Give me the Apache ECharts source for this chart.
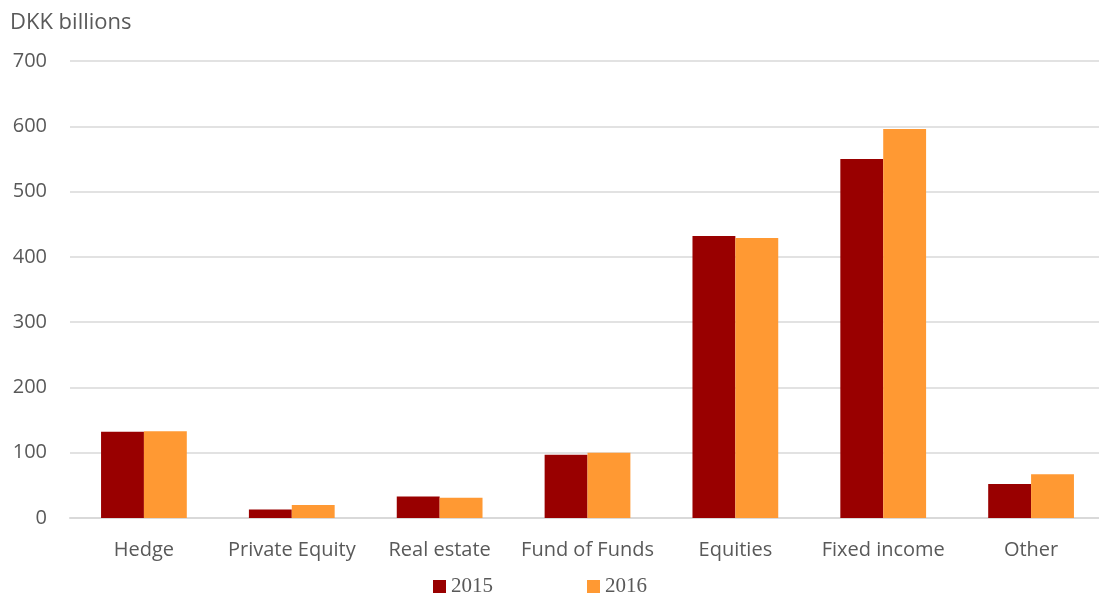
<!DOCTYPE html>
<html>
<head>
<meta charset="utf-8">
<script src="https://cdn.jsdelivr.net/npm/echarts@6/dist/echarts.min.js"></script>
<style>
  html, body { margin: 0; padding: 0; background: #fff; overflow: hidden; }
  #chart { width: 1105px; height: 596px; }
</style>
</head>
<body>
<div id="chart"></div>
<script>
const categories = ['Hedge', 'Private Equity', 'Real estate', 'Fund of Funds', 'Equities', 'Fixed income', 'Other']
const values2015 = [132, 13, 33, 97, 432, 550, 52]
const values2016 = [133, 20, 31, 100, 429, 596, 67]
const yTicks = [0, 100, 200, 300, 400, 500, 600, 700]

const chart = echarts.init(document.getElementById('chart'))

const labelFont = '"Open Sans", Lato, sans-serif'

chart.setOption({
  animation: false,
  title: {
    text: 'DKK billions',
    left: 5,
    top: 7,
    textStyle: { fontFamily: labelFont, fontSize: 22, fontWeight: 'normal', color: '#595959' }
  },
  legend: {
    data: ['2015', '2016'],
    top: 571,
    left: 428,
    itemWidth: 13,
    itemHeight: 13,
    itemGap: 94,
    icon: 'rect',
    textStyle: { fontFamily: 'Georgia, "Liberation Serif", serif', fontSize: 21, color: '#595959' }
  },
  grid: { left: 70, right: 0, top: 61, bottom: 78 },
  xAxis: {
    type: 'category',
    data: categories,
    axisLine: { lineStyle: { color: '#d9d9d9', width: 2 } },
    axisTick: { show: false },
    axisLabel: { fontFamily: labelFont, fontSize: 20, color: '#595959', margin: 22, interval: 0 }
  },
  yAxis: {
    type: 'value',
    min: yTicks[0],
    max: yTicks[yTicks.length - 1],
    interval: 100,
    axisLine: { show: false },
    axisTick: { show: false },
    splitLine: { lineStyle: { color: '#d9d9d9', width: 1.5 } },
    axisLabel: { fontFamily: labelFont, fontSize: 20, color: '#595959', margin: 23 }
  },
  series: [
    {
      name: '2015',
      type: 'bar',
      data: values2015,
      barGap: '0%',
      barCategoryGap: '42%',
      itemStyle: { color: '#990000' }
    },
    {
      name: '2016',
      type: 'bar',
      data: values2016,
      itemStyle: { color: '#ff9933' }
    }
  ]
})
</script>
</body>
</html>
